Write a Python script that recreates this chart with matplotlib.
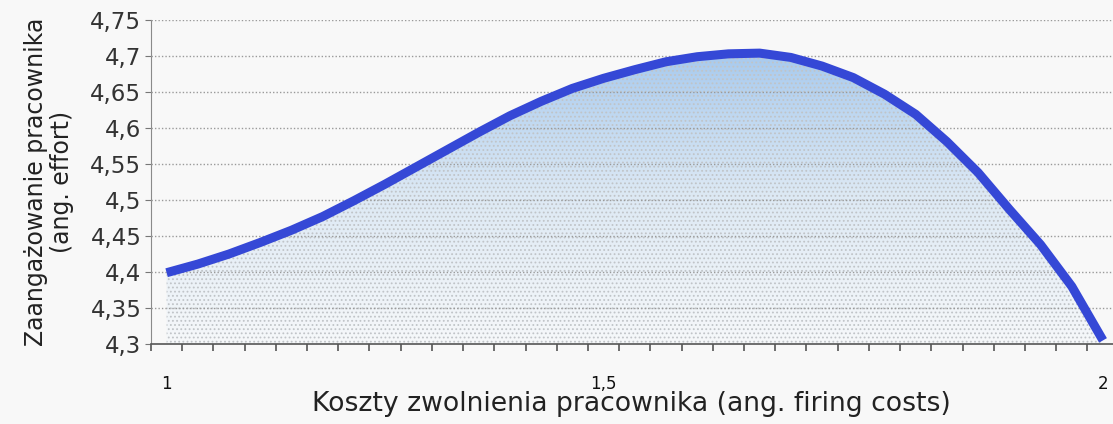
import matplotlib.pyplot as plt
import numpy as np
from matplotlib.colors import LinearSegmentedColormap

# koszty zwolnienia - 31 kategorii, podpisane tylko trzy
kategorie = np.arange(31)
x_ticks = [0, 14, 30]
x_labels = ['1', '1,5', '2']
# zaangażowanie pracownika
effort = [4.399, 4.411, 4.425, 4.441, 4.458, 4.477, 4.499, 4.522, 4.546, 4.570,
          4.594, 4.617, 4.637, 4.655, 4.669, 4.681, 4.692, 4.699, 4.703, 4.704,
          4.698, 4.686, 4.670, 4.647, 4.619, 4.581, 4.538, 4.487, 4.438, 4.380,
          4.305]
y_ticks = [4.3, 4.35, 4.4, 4.45, 4.5, 4.55, 4.6, 4.65, 4.7, 4.75]
y_labels = ['4,3', '4,35', '4,4', '4,45', '4,5', '4,55', '4,6', '4,65', '4,7', '4,75']

plt.rcParams['font.family'] = ['DejaVu Sans']
plt.rcParams['hatch.linewidth'] = 0.8

W, H = 1113, 424
fig = plt.figure(figsize=(W / 100, H / 100), dpi=100, facecolor='#f8f8f8')
ax = fig.add_axes([151 / W, (H - 344) / H, (W - 151) / W, 324 / H])
ax.set_facecolor('#f8f8f8')

x0 = -0.5
x1 = 30 + 10 / 31.2
ax.set_xlim(x0, x1)
ax.set_ylim(4.3, 4.75)

# siatka
for t in y_ticks[1:]:
    ax.axhline(t, color='#9a9a9a', linewidth=1, linestyle=(0, (1, 1.5)), zorder=4)

# gradient pod krzywą
fill = ax.fill_between(kategorie, effort, 4.3, facecolor='none', edgecolor='none')
cmap = LinearSegmentedColormap.from_list('g', ['#f6f8fa', '#dde9f4', '#a6c9ee'])
grad = np.linspace(0, 1, 256).reshape(-1, 1)
img = ax.imshow(grad, extent=[x0, x1, 4.3, 4.71], origin='lower', aspect='auto',
                cmap=cmap, zorder=2)
path = fill.get_paths()[0]
img.set_clip_path(path, transform=ax.transData)

# kropki
ax.fill_between(kategorie, effort, 4.3, facecolor='none', edgecolor='#c0c4c8',
                hatch='....', linewidth=0, zorder=3)

ax.plot(kategorie, effort, color='#3548d6', linewidth=6.5, solid_capstyle='butt',
        solid_joinstyle='round', zorder=5)

ax.spines['top'].set_visible(False)
ax.spines['right'].set_visible(False)
ax.spines['left'].set_color('#8a8a8a')
ax.spines['bottom'].set_color('#555555')
ax.spines['bottom'].set_linewidth(1.2)

ax.set_yticks(y_ticks)
ax.set_yticklabels(y_labels, fontsize=16.5, color='#333333')
ax.tick_params(axis='y', length=4, color='#777777', pad=3)

ax.set_xticks(x_ticks)
ax.set_xticklabels(x_labels, fontsize=12, color='#111111')
ax.set_xticks(np.arange(x0, x1, 1), minor=True)
ax.tick_params(axis='x', which='major', length=0, pad=22)
ax.tick_params(axis='x', which='minor', length=5, color='#555555', width=1.2)

ax.set_xlabel('Koszty zwolnienia pracownika (ang. firing costs)', fontsize=19.2,
              color='#222222')
ax.xaxis.set_label_coords((631 - 151) / 962, -(391 - 344) / 324)
ax.set_ylabel('Zaangażowanie pracownika\n(ang. effort)', fontsize=17,
              color='#222222', linespacing=1.1)
ax.yaxis.set_label_coords((74 - 151) / 962, 0.5)

plt.savefig('out.png', dpi=100, facecolor=fig.get_facecolor())
